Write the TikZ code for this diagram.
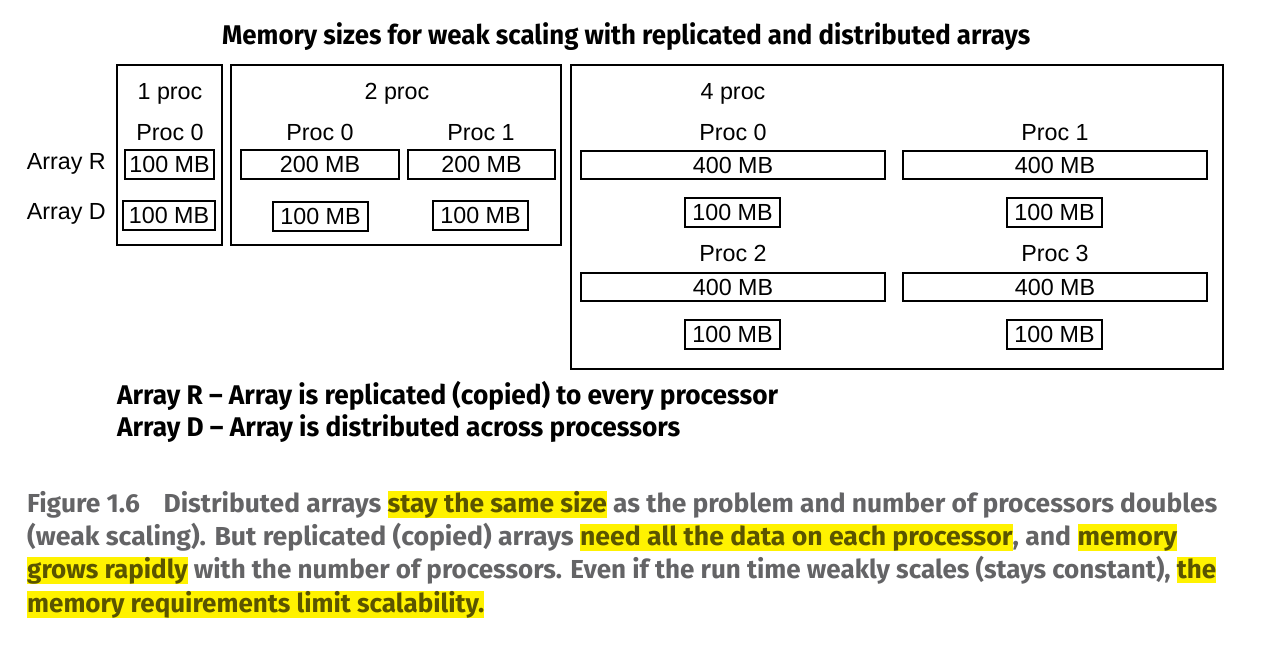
\documentclass[tikz,border=0pt]{standalone}
\usepackage{fontspec}
\setmainfont{Liberation Sans}
\newfontfamily\fira{Fira Sans}
\usepackage{graphicx}
\definecolor{capgray}{HTML}{646466}
\definecolor{hlyellow}{HTML}{FFF200}
\definecolor{hltext}{HTML}{5A5400}
\newcommand{\hlw}[1]{{\setlength{\fboxsep}{0pt}\colorbox{hlyellow}{\rule[-5pt]{0pt}{26pt}\textcolor{hltext}{#1}}}}
\newcommand{\capfont}{\fira\bfseries\fontsize{26}{30}\selectfont\color{capgray}}
\tikzset{
  lbl/.style={inner sep=0pt, font=\fontsize{23.3}{25}\selectfont, text height=16.7pt, text depth=0pt},
  mem/.style={draw, line width=1.3pt, inner sep=0pt, font=\fontsize{23.3}{25}\selectfont, text height=16.7pt, text depth=0pt},
  grp/.style={draw, line width=1.5pt, inner sep=0pt},
  txt/.style={inner sep=0pt, anchor=base west},
}
\begin{document}
\begin{tikzpicture}[x=1pt,y=-1pt]
\useasboundingbox[fill=white] (0,0) rectangle (1276,658);
% title
\node[txt] (title) at (222,45) {\resizebox{808pt}{\height}{\fira\bfseries\fontsize{27}{30}\selectfont Memory sizes for weak scaling with replicated and distributed arrays}};
% group boxes
\node[grp, minimum width=105pt, minimum height=180pt] (g1) at (169.5,155) {};
\node[grp, minimum width=330pt, minimum height=180pt] (g2) at (396,155) {};
\node[grp, minimum width=652pt, minimum height=304pt] (g4) at (897,217) {};
% headers
\node[lbl] (h1) at (170,91) {1 proc};
\node[lbl] (h2) at (397,91) {2 proc};
\node[lbl] (h4) at (733,91) {4 proc};
% row labels
\node[lbl, anchor=east] (arrR) at (106,161) {Array R};
\node[lbl, anchor=east] (arrD) at (106,211) {Array D};
% 1 proc
\node[lbl] (p1a) at (170,132) {Proc 0};
\node[mem, minimum width=89pt, minimum height=29pt] (r1a) at (169.5,164.5) {100 MB};
\node[mem, minimum width=92pt, minimum height=29pt] (d1a) at (169,215.5) {100 MB};
% 2 proc
\node[lbl] (p2a) at (320,132) {Proc 0};
\node[lbl] (p2b) at (481,132) {Proc 1};
\node[mem, minimum width=158pt, minimum height=29pt] (r2a) at (320,164.5) {200 MB};
\node[mem, minimum width=147pt, minimum height=29pt] (r2b) at (481.5,164.5) {200 MB};
\node[mem, minimum width=95pt, minimum height=29pt] (d2a) at (320.5,216.5) {100 MB};
\node[mem, minimum width=95pt, minimum height=29pt] (d2b) at (480.5,215.5) {100 MB};
% 4 proc
\node[lbl] (p4a) at (733,132) {Proc 0};
\node[lbl] (p4b) at (1055,132) {Proc 1};
\node[mem, minimum width=304pt, minimum height=28pt] (r4a) at (733,165) {400 MB};
\node[mem, minimum width=304pt, minimum height=28pt] (r4b) at (1055,165) {400 MB};
\node[mem, minimum width=95pt, minimum height=29pt] (d4a) at (732.5,212.5) {100 MB};
\node[mem, minimum width=95pt, minimum height=29pt] (d4b) at (1054.5,212.5) {100 MB};
\node[lbl] (p4c) at (733,253) {Proc 2};
\node[lbl] (p4d) at (1055,253) {Proc 3};
\node[mem, minimum width=304pt, minimum height=28pt] (r4c) at (733,287) {400 MB};
\node[mem, minimum width=304pt, minimum height=28pt] (r4d) at (1055,287) {400 MB};
\node[mem, minimum width=95pt, minimum height=29pt] (d4c) at (732.5,334.5) {100 MB};
\node[mem, minimum width=95pt, minimum height=29pt] (d4d) at (1054.5,334.5) {100 MB};
% legend
\node[txt] (legR) at (117,404) {\resizebox{661pt}{\height}{\fira\bfseries\fontsize{27}{30}\selectfont Array R – Array is replicated (copied) to every processor}};
\node[txt] (legD) at (117,436) {\resizebox{563pt}{\height}{\fira\bfseries\fontsize{27}{30}\selectfont Array D – Array is distributed across processors}};
% caption
\node[txt] (cap1) at (27,512) {\resizebox{1190pt}{\height}{\capfont Figure 1.6\hspace{0.9em}Distributed arrays \hlw{stay the same size} as the problem and number of processors doubles}};
\node[txt] (cap2) at (27,545) {\resizebox{1150pt}{\height}{\capfont (weak scaling). But replicated (copied) arrays \hlw{need all the data on each processor}, and \hlw{memory}}};
\node[txt] (cap3) at (27,578) {\resizebox{1189pt}{\height}{\capfont \hlw{grows rapidly} with the number of processors. Even if the run time weakly scales (stays constant), \hlw{the}}};
\node[txt] (cap4) at (27,612) {\resizebox{457pt}{\height}{\capfont \hlw{memory requirements limit scalability.}}};
\end{tikzpicture}
\end{document}
